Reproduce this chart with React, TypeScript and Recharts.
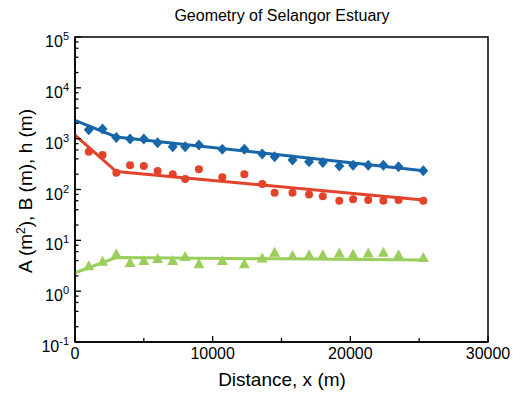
import {
  ComposedChart,
  Line,
  Scatter,
  XAxis,
  YAxis,
  ReferenceArea,
  Customized,
} from "recharts";

// measured stations along the estuary (m)
const distance = [
  1000, 2000, 3000, 4000, 5000, 6000, 7100, 8000, 9000, 10700, 12300, 13600,
  14500, 15800, 17000, 18000, 19200, 20200, 21300, 22400, 23500, 25300,
];
// cross-sectional area A (m2)
const areaA = [
  1500, 1550, 1060, 980, 980, 830, 690, 690, 750, 620, 620, 500, 440, 380, 350,
  340, 290, 300, 300, 300, 280, 233,
];
// width B (m)
const widthB = [
  550, 475, 213, 300, 290, 230, 200, 160, 250, 175, 200, 128, 86, 86, 80, 74,
  60, 64, 62, 60, 62, 60,
];
// depth h (m)
const depthH = [
  3.1, 3.8, 5.3, 3.6, 3.9, 4.3, 3.9, 4.7, 3.4, 3.9, 3.4, 4.4, 5.7, 4.9, 5.1,
  5.1, 5.5, 5.2, 5.5, 5.7, 5.1, 4.5,
];

// fitted curves (straight in log space, break at 3 km)
const fitX = [0, 3000, 25300];
const fitA = [2300, 1080, 235];
const fitB = [1180, 225, 62];
const fitH = [2.3, 4.6, 4.1];

const xTicks = [0, 5000, 10000, 15000, 20000, 25000, 30000];
const decades = [-1, 0, 1, 2, 3, 4, 5];
const minorMult = [2, 4, 6, 8];

const BLUE = "#1766a9";
const RED = "#e4432b";
const GREEN = "#9bcf5b";

const PLOT_LEFT = 75;
const PLOT_BOTTOM = 342;
const FONT = "'Liberation Sans', Arial, sans-serif";

const toPts = (xs: number[], vs: number[]) => xs.map((x, i) => ({ x, v: vs[i] }));

const ptsA = toPts(distance, areaA);
const ptsB = toPts(distance, widthB);
const ptsH = toPts(distance, depthH);
const lineA = toPts(fitX, fitA);
const lineB = toPts(fitX, fitB);
const lineH = toPts(fitX, fitH);

const yTicks: number[] = [];
decades.forEach((d) => {
  yTicks.push(Math.pow(10, d));
  if (d < 5) minorMult.forEach((m) => yTicks.push(m * Math.pow(10, d)));
});

const isMajorY = (v: number) => {
  const l = Math.log10(v);
  return Math.abs(l - Math.round(l)) < 1e-6;
};

const XTick = (props: any) => {
  const { x, payload } = props;
  const major = payload.value % 10000 === 0;
  return (
    <g>
      <line
        x1={x}
        x2={x}
        y1={PLOT_BOTTOM}
        y2={PLOT_BOTTOM - (major ? 6 : 4)}
        stroke="#000"
        strokeWidth={1.3}
      />
      {major && (
        <text x={x} y={PLOT_BOTTOM + 17} textAnchor="middle" fontSize={16} fontFamily={FONT} fill="#000">
          {payload.value}
        </text>
      )}
    </g>
  );
};

const YTick = (props: any) => {
  const { y, payload } = props;
  const major = isMajorY(payload.value);
  const exp = Math.round(Math.log10(payload.value));
  return (
    <g>
      <line
        x1={PLOT_LEFT}
        x2={PLOT_LEFT + (major ? 6 : 3.5)}
        y1={y}
        y2={y}
        stroke="#000"
        strokeWidth={1.3}
      />
      {major && (
        <text x={69} y={y + 10} textAnchor="end" fontSize={16} fontFamily={FONT} fill="#000">
          10
          <tspan dy={-7} fontSize={11}>
            {exp}
          </tspan>
        </text>
      )}
    </g>
  );
};

const diamond = (p: any) => (
  <path
    d={`M${p.cx},${p.cy - 5.5}L${p.cx + 5},${p.cy}L${p.cx},${p.cy + 5.5}L${p.cx - 5},${p.cy}Z`}
    fill={BLUE}
  />
);
const circle = (p: any) => <circle cx={p.cx} cy={p.cy} r={4} fill={RED} />;
const triangle = (p: any) => (
  <path
    d={`M${p.cx},${p.cy - 6}L${p.cx + 5.5},${p.cy + 4}L${p.cx - 5.5},${p.cy + 4}Z`}
    fill={GREEN}
  />
);

const Titles = () => (
  <g fontFamily={FONT} fill="#000">
    <text x={282} y={21} textAnchor="middle" fontSize={16}>
      Geometry of Selangor Estuary
    </text>
    <text x={282} y={386} textAnchor="middle" fontSize={19}>
      Distance, x (m)
    </text>
    <text x={0} y={0} transform="translate(32,191) rotate(-90)" textAnchor="middle" fontSize={19}>
      A (m
      <tspan dy={-7} fontSize={12}>
        2
      </tspan>
      <tspan dy={7}>), B (m), h (m)</tspan>
    </text>
  </g>
);

export default function App() {
  return (
    <div style={{ position: "absolute", left: 0, top: 0, background: "#fff" }}>
      <ComposedChart
        width={518}
        height={400}
        margin={{ top: 37, right: 30, bottom: 0, left: 0 }}
      >
        <XAxis
          type="number"
          dataKey="x"
          domain={[0, 30000]}
          ticks={xTicks}
          height={58}
          tick={<XTick />}
          tickLine={false}
          axisLine={{ stroke: "#000", strokeWidth: 1.5 }}
          allowDuplicatedCategory={false}
        />
        <YAxis
          type="number"
          dataKey="v"
          scale="log"
          domain={[0.1, 100000]}
          ticks={yTicks}
          interval={0}
          width={75}
          tick={<YTick />}
          tickLine={false}
          axisLine={{ stroke: "#000", strokeWidth: 1.5 }}
          allowDataOverflow
        />
        <ReferenceArea
          x1={0}
          x2={30000}
          y1={0.1}
          y2={100000}
          fill="none"
          stroke="#000"
          strokeWidth={1.5}
          ifOverflow="visible"
        />
        <Line data={lineA} dataKey="v" stroke={BLUE} strokeWidth={3} dot={false} isAnimationActive={false} />
        <Line data={lineB} dataKey="v" stroke={RED} strokeWidth={3} dot={false} isAnimationActive={false} />
        <Line data={lineH} dataKey="v" stroke={GREEN} strokeWidth={3} dot={false} isAnimationActive={false} />
        <Scatter data={ptsA} dataKey="v" shape={diamond} isAnimationActive={false} />
        <Scatter data={ptsB} dataKey="v" shape={circle} isAnimationActive={false} />
        <Scatter data={ptsH} dataKey="v" shape={triangle} isAnimationActive={false} />
        <Customized component={Titles} />
      </ComposedChart>
    </div>
  );
}
